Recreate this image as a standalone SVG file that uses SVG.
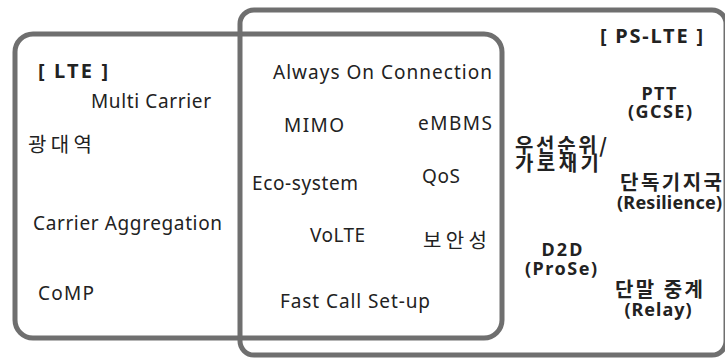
<svg xmlns="http://www.w3.org/2000/svg" width="725" height="358" viewBox="0 0 725 358">
<style>
.box{fill:none;stroke:#6f6f6f;stroke-width:5}
text{font-family:"Noto Sans","Noto Sans CJK KR",sans-serif;font-size:19px;fill:#222}
.b{font-weight:bold;font-size:18px}
.k{font-family:"Noto Sans CJK KR",sans-serif;font-size:20px}
.m{text-anchor:middle}
</style>
<rect width="725" height="358" fill="#fff"/>
<g id="lte">
<rect class="box" x="15" y="34" width="487" height="304" rx="18"/>
<text class="b" x="38" y="78" style="font-size:20px" textLength="70" lengthAdjust="spacing">[ LTE ]</text>
<text x="91" y="108" textLength="120" lengthAdjust="spacing">Multi Carrier</text>
<text class="k" x="28" y="152" textLength="64" lengthAdjust="spacing">광대역</text>
<text x="33" y="230" textLength="189" lengthAdjust="spacing">Carrier Aggregation</text>
<text x="38" y="300" textLength="56" lengthAdjust="spacing">CoMP</text>
</g>
<g id="ps-lte">
<rect class="box" x="240" y="10" width="486" height="345" rx="14"/>
<text class="b" x="600" y="43" style="font-size:20px" textLength="103" lengthAdjust="spacing">[ PS-LTE ]</text>
<text class="b m" x="659" y="100" textLength="35" lengthAdjust="spacing">PTT</text>
<text class="b m" x="660" y="118" textLength="64" lengthAdjust="spacing">(GCSE)</text>
<text class="k b" x="515" y="153" style="font-size:20px" textLength="92" lengthAdjust="spacing">우선순위/</text>
<text class="k b" x="515" y="171" style="font-size:20px" textLength="84" lengthAdjust="spacing">가로채기</text>
<text class="k b" x="620" y="190" style="font-size:20px" textLength="102" lengthAdjust="spacing">단독기지국</text>
<text class="b" x="617" y="209" textLength="105" lengthAdjust="spacing">(Resilience)</text>
<text class="b m" x="562" y="256" textLength="41" lengthAdjust="spacing">D2D</text>
<text class="b m" x="561" y="275" textLength="72" lengthAdjust="spacing">(ProSe)</text>
<text class="k b m" x="659" y="297" style="font-size:20px" textLength="88" lengthAdjust="spacing">단말 중계</text>
<text class="b m" x="658" y="316" textLength="67" lengthAdjust="spacing">(Relay)</text>
</g>
<g id="common">
<text x="273" y="79" textLength="219" lengthAdjust="spacing">Always On Connection</text>
<text x="284" y="132" textLength="60" lengthAdjust="spacing">MIMO</text>
<text x="418" y="130" textLength="74" lengthAdjust="spacing">eMBMS</text>
<text x="252" y="190" textLength="106" lengthAdjust="spacing">Eco-system</text>
<text x="422" y="183" textLength="38" lengthAdjust="spacing">QoS</text>
<text x="310" y="242" textLength="55" lengthAdjust="spacing">VoLTE</text>
<text class="k" x="423" y="248" textLength="64" lengthAdjust="spacing">보안성</text>
<text x="280" y="308" textLength="150" lengthAdjust="spacing">Fast Call Set-up</text>
</g>
<g id="connectors"></g>
</svg>
